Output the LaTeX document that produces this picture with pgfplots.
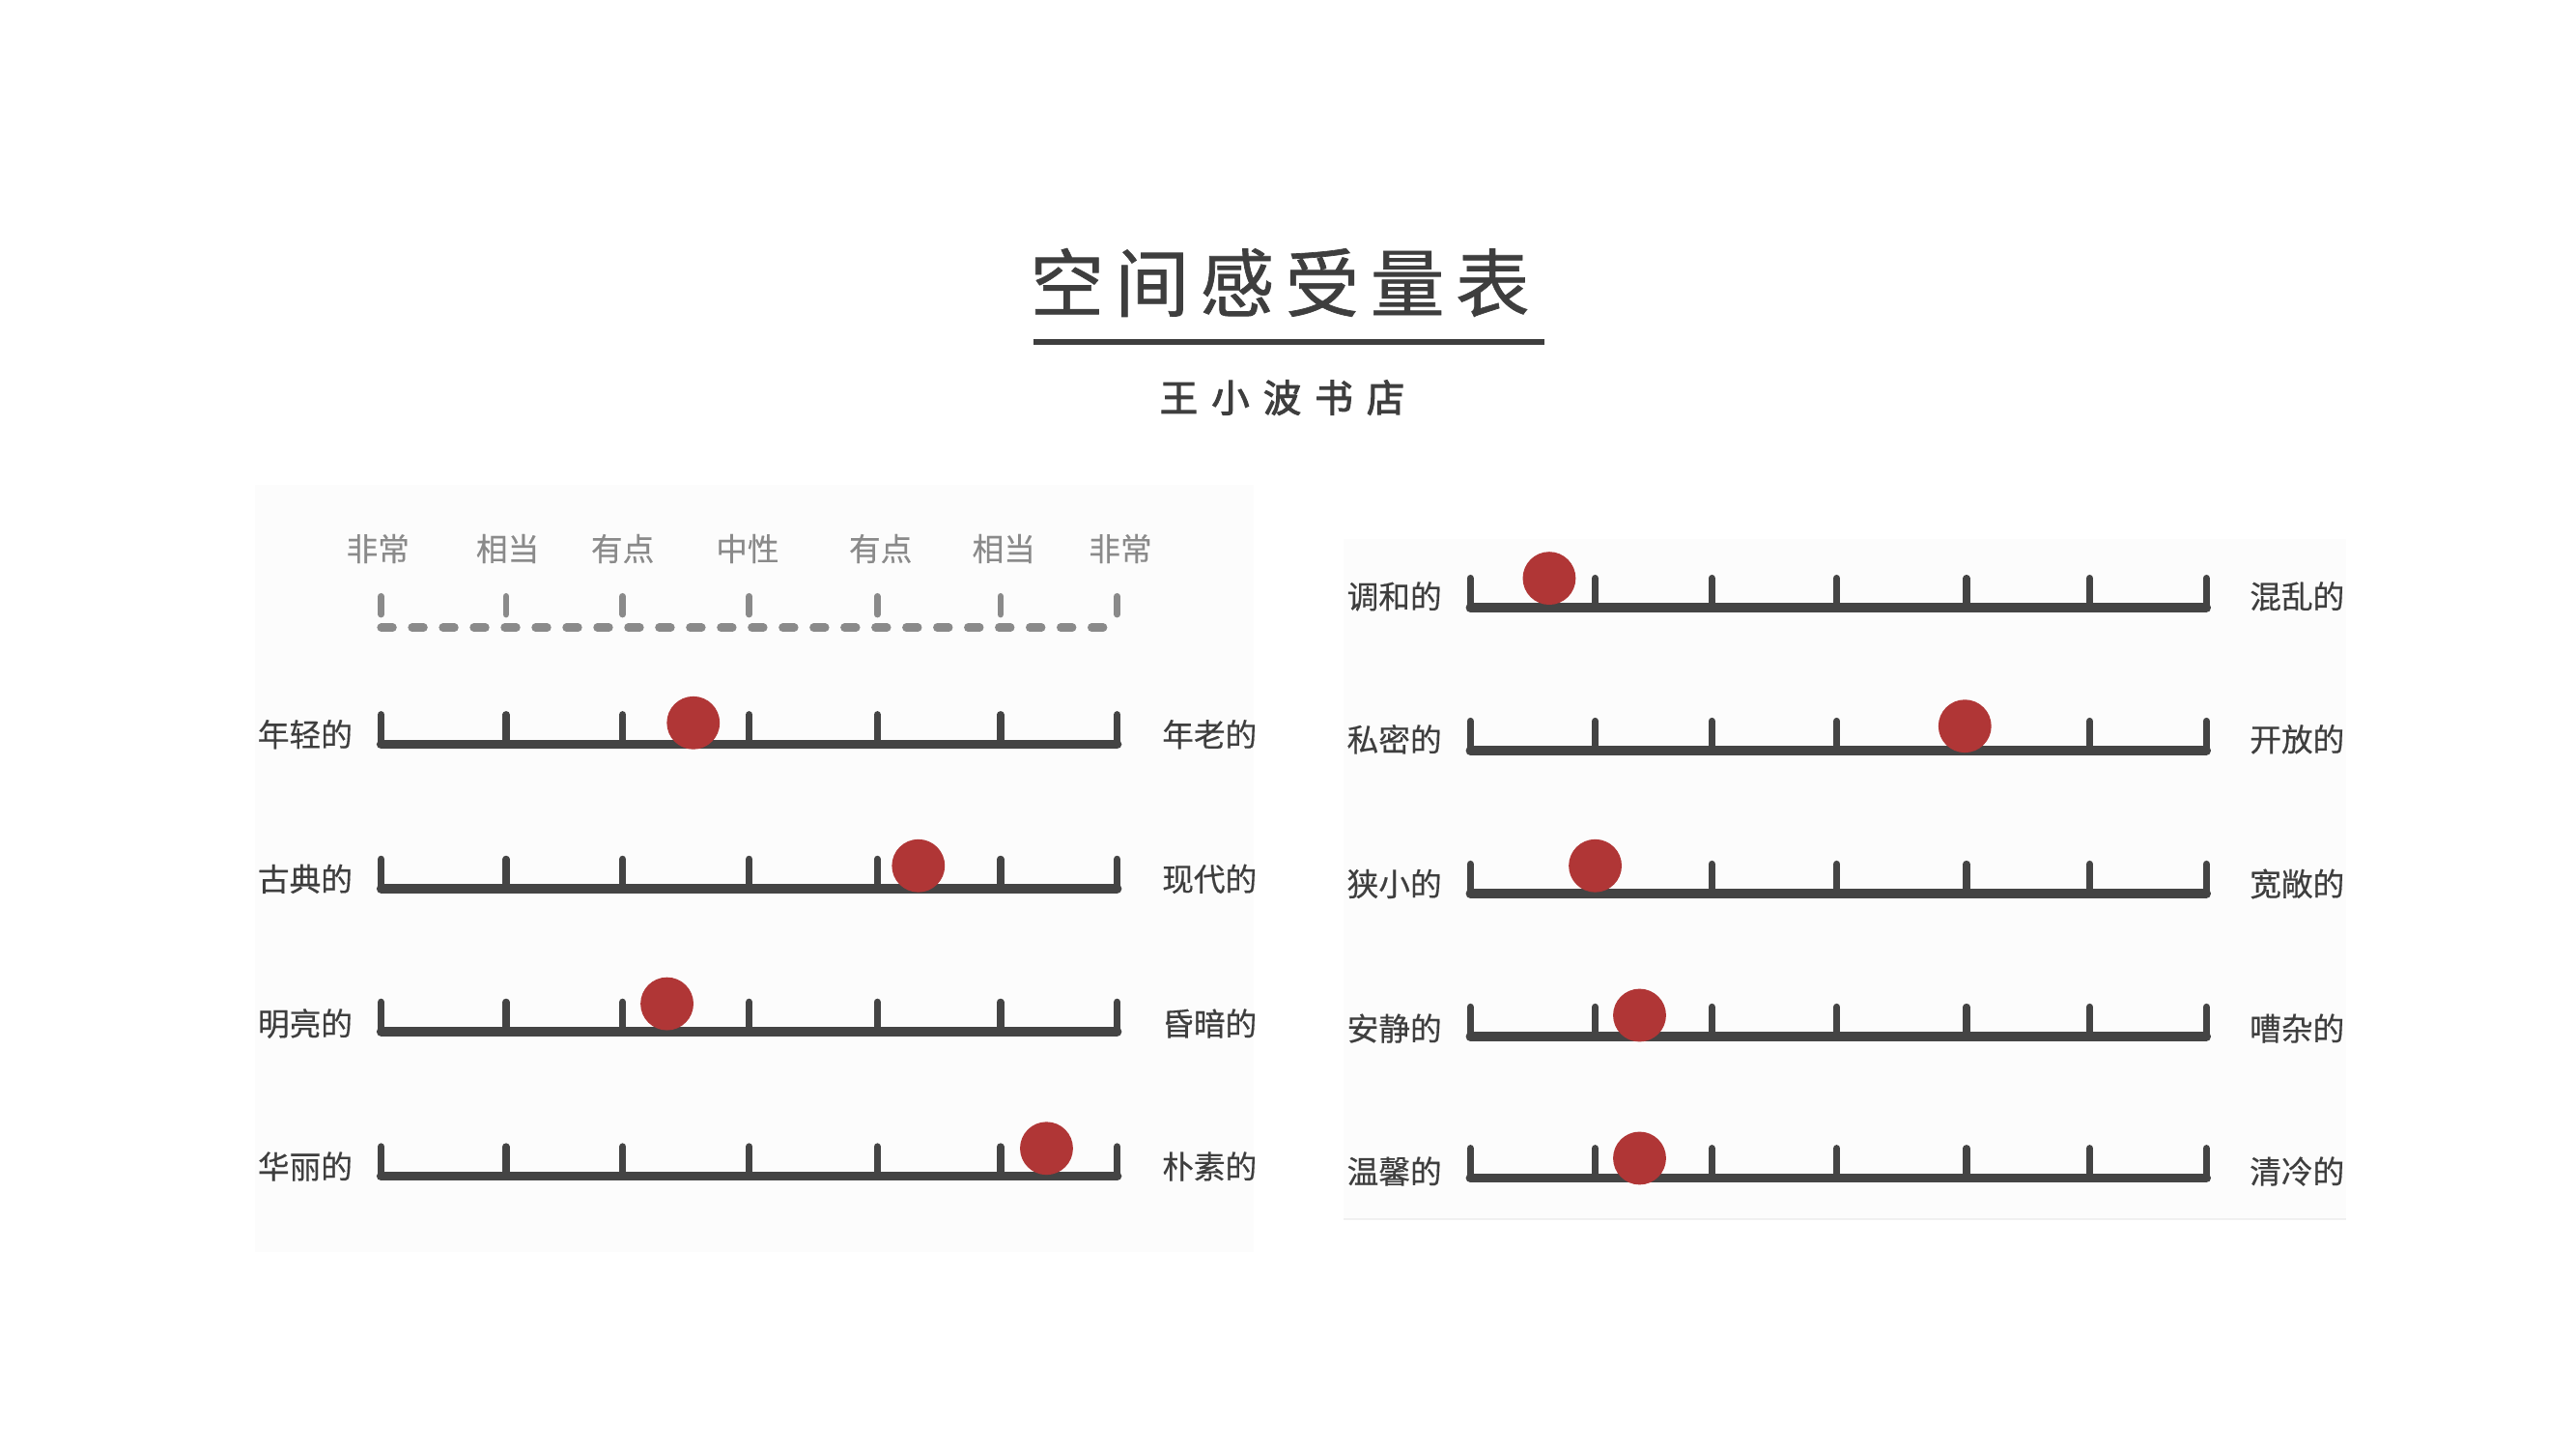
\documentclass[border=0pt]{standalone}
\usepackage{pgfplots}
\pgfplotsset{compat=1.18}
\usepackage{fontspec}
\newfontfamily\cjk[FakeBold=0.35]{Noto Sans CJK SC}
\newfontfamily\cjktitle[LetterSpace=15,FakeBold=0.9]{Noto Sans CJK SC}
\newfontfamily\cjksub[LetterSpace=36,FakeBold=2.6]{Noto Sans CJK SC}
\definecolor{scl}{HTML}{444444}
\definecolor{dotred}{HTML}{B03636}
\definecolor{txt}{HTML}{3E3E3E}
\definecolor{hdr}{HTML}{8A8A8A}
\definecolor{panel}{HTML}{FCFCFC}

% #1 first x, #2 last x, #3 baseline y, #4 tick top y ; ticks at #5
\newcommand\scalerow[5]{%
  \pgfplotsinvokeforeach{#5}{%
    \addplot[scl, line width=2.1pt, line cap=round] coordinates {(##1,#3) (##1,#4)};}
  \addplot[scl, line width=2.7pt, line cap=round] coordinates {(#1,#3) (#2,#3)};
}

\begin{document}
\begin{tikzpicture}
\begin{axis}[
  hide axis, scale only axis,
  width=26.67cm, height=15cm,
  xmin=0, xmax=1568, ymin=0, ymax=882,
  y dir=reverse, clip=false,
]
% page background and panels
\fill[white] (axis cs:0,0) rectangle (axis cs:1568,882);
\fill[panel] (axis cs:155,295) rectangle (axis cs:763,762);
\fill[panel] (axis cs:818,328) rectangle (axis cs:1428,742);
\draw[black!6, line width=0.6pt] (axis cs:818,742) -- (axis cs:1428,742);

% title
\node[text=txt, font=\cjktitle\fontsize{21.8pt}{26pt}\selectfont, inner sep=0pt] at (axis cs:779,172) {空间感受量表};
\addplot[txt, line width=1.8pt] coordinates {(629,208) (940,208)};
\node[text=txt, font=\cjksub\fontsize{11.2pt}{13pt}\selectfont, inner sep=0pt] at (axis cs:780.5,242) {王小波书店};

% header legend
\pgfplotsinvokeforeach{232,308,379,456,534,609,680}{%
  \addplot[hdr, line width=1.9pt, line cap=round] coordinates {(#1,363) (#1,374)};}
\addplot[hdr, line width=2.4pt, line cap=round, dash pattern=on 3.4pt off 5.7pt] coordinates {(232,382) (682,382)};
\begin{scope}[every node/.style={text=hdr, font=\cjk\fontsize{9.3pt}{11pt}\selectfont, inner sep=0pt}]
\node at (axis cs:230,334) {非常};
\node at (axis cs:309,334) {相当};
\node at (axis cs:379,334) {有点};
\node at (axis cs:455,334) {中性};
\node at (axis cs:536,334) {有点};
\node at (axis cs:611,334) {相当};
\node at (axis cs:682,334) {非常};
\end{scope}

% left scales
\scalerow{232}{680}{453}{435}{232,308,379,456,534,609,680}
\scalerow{232}{680}{541}{523}{232,308,379,456,534,609,680}
\scalerow{232}{680}{628}{610}{232,308,379,456,534,609,680}
\scalerow{232}{680}{716}{698}{232,308,379,456,534,609,680}
% right scales
\scalerow{895}{1343}{370}{352}{895,971,1042,1118,1197,1272,1343}
\scalerow{895}{1343}{457}{439}{895,971,1042,1118,1197,1272,1343}
\scalerow{895}{1343}{544}{526}{895,971,1042,1118,1197,1272,1343}
\scalerow{895}{1343}{631}{613}{895,971,1042,1118,1197,1272,1343}
\scalerow{895}{1343}{717}{699}{895,971,1042,1118,1197,1272,1343}

% ratings (dots)
\addplot[only marks, mark=*, mark size=7.6pt, color=dotred, mark options={draw=none}] coordinates {
  (422,440) (559,527) (406,611) (637,699)
  (943,352) (1196,442) (971,527) (998,618) (998,705)
};

% row labels
\begin{scope}[every node/.style={text=txt, font=\cjk\fontsize{9.3pt}{11pt}\selectfont, inner sep=0pt}]
\node[anchor=east] at (axis cs:215,447) {年轻的};
\node[anchor=west] at (axis cs:707,447) {年老的};
\node[anchor=east] at (axis cs:215,535) {古典的};
\node[anchor=west] at (axis cs:707,535) {现代的};
\node[anchor=east] at (axis cs:215,623) {明亮的};
\node[anchor=west] at (axis cs:707,623) {昏暗的};
\node[anchor=east] at (axis cs:215,710) {华丽的};
\node[anchor=west] at (axis cs:707,710) {朴素的};

\node[anchor=east] at (axis cs:878,363) {调和的};
\node[anchor=west] at (axis cs:1369,363) {混乱的};
\node[anchor=east] at (axis cs:878,450) {私密的};
\node[anchor=west] at (axis cs:1369,450) {开放的};
\node[anchor=east] at (axis cs:878,538) {狭小的};
\node[anchor=west] at (axis cs:1369,538) {宽敞的};
\node[anchor=east] at (axis cs:878,626) {安静的};
\node[anchor=west] at (axis cs:1369,626) {嘈杂的};
\node[anchor=east] at (axis cs:878,713) {温馨的};
\node[anchor=west] at (axis cs:1369,713) {清冷的};
\end{scope}
\end{axis}
\end{tikzpicture}
\end{document}
